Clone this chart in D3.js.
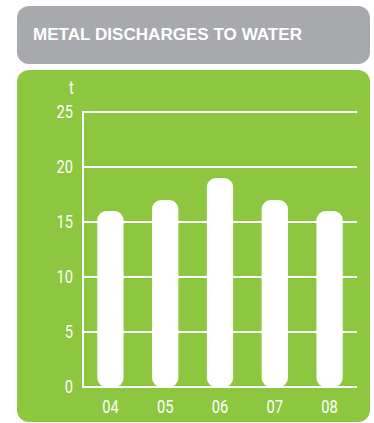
<!DOCTYPE html>
<html>
<head>
<meta charset="utf-8">
<script src="https://cdn.jsdelivr.net/npm/d3@7"></script>
<style>
  html, body { margin: 0; padding: 0; background: #ffffff; }
  svg { display: block; }
  .lbl { font-family: "Roboto", "Liberation Sans", sans-serif; fill: #ffffff; }
</style>
</head>
<body>
<script>
// Metal discharges to water, tonnes per year
const years = ["04", "05", "06", "07", "08"];
const discharges = [16, 17, 19, 17, 16];
const yTicks = [0, 5, 10, 15, 20, 25];
const title = "METAL DISCHARGES TO WATER";
const unit = "t";

const W = 374, H = 423;
const svg = d3.select("body").append("svg").attr("width", W).attr("height", H);

// Header panel
svg.append("rect")
  .attr("x", 17).attr("y", 6).attr("width", 353).attr("height", 58)
  .attr("rx", 12).attr("fill", "#a7a9ac");
svg.append("text")
  .attr("x", 33).attr("y", 39.5)
  .attr("font-family", "Liberation Sans, Arial, sans-serif")
  .attr("font-weight", "bold").attr("font-size", 16.5)
  .attr("textLength", 269).attr("lengthAdjust", "spacingAndGlyphs")
  .attr("fill", "#ffffff")
  .text(title);

// Chart panel
svg.append("rect")
  .attr("x", 17).attr("y", 70).attr("width", 353).attr("height", 352)
  .attr("rx", 12).attr("fill", "#8dc63f");

const x0 = 83, x1 = 357;
const y = d3.scaleLinear().domain([0, 25]).range([387, 112]);
const x = d3.scaleBand().domain(years).range([x0, x1]).paddingInner(0.52).paddingOuter(0.26);

// Gridlines
svg.append("g").selectAll("line").data(yTicks).join("line")
  .attr("x1", x0).attr("x2", x1)
  .attr("y1", d => y(d)).attr("y2", d => y(d))
  .attr("stroke", "#ffffff").attr("stroke-width", 2);

// Vertical axis line
svg.append("line")
  .attr("x1", x0).attr("x2", x0).attr("y1", y(25) - 1).attr("y2", y(0) + 1)
  .attr("stroke", "#ffffff").attr("stroke-width", 2);

// Bars with rounded ends
svg.append("g").selectAll("rect").data(discharges).join("rect")
  .attr("x", (d, i) => x(years[i]))
  .attr("width", x.bandwidth())
  .attr("y", d => y(d))
  .attr("height", d => y(0) - y(d))
  .attr("rx", 9)
  .attr("fill", "#ffffff");

// Condensed label style: horizontally squeezed text
const squeeze = 0.84, labelSize = 17.5;

// Y tick labels
svg.append("g").selectAll("text").data(yTicks).join("text")
  .attr("class", "lbl")
  .attr("transform", d => `translate(73,${y(d) + 6}) scale(${squeeze},1)`)
  .attr("text-anchor", "end").attr("font-size", labelSize)
  .text(d => d);

// Unit label
svg.append("text").attr("class", "lbl")
  .attr("transform", `translate(71.5,94) scale(${squeeze},1)`)
  .attr("text-anchor", "middle").attr("font-size", labelSize)
  .text(unit);

// X labels
svg.append("g").selectAll("text").data(years).join("text")
  .attr("class", "lbl")
  .attr("transform", d => `translate(${x(d) + x.bandwidth() / 2},413) scale(${squeeze},1)`)
  .attr("text-anchor", "middle").attr("font-size", labelSize)
  .text(d => d);
</script>
</body>
</html>
